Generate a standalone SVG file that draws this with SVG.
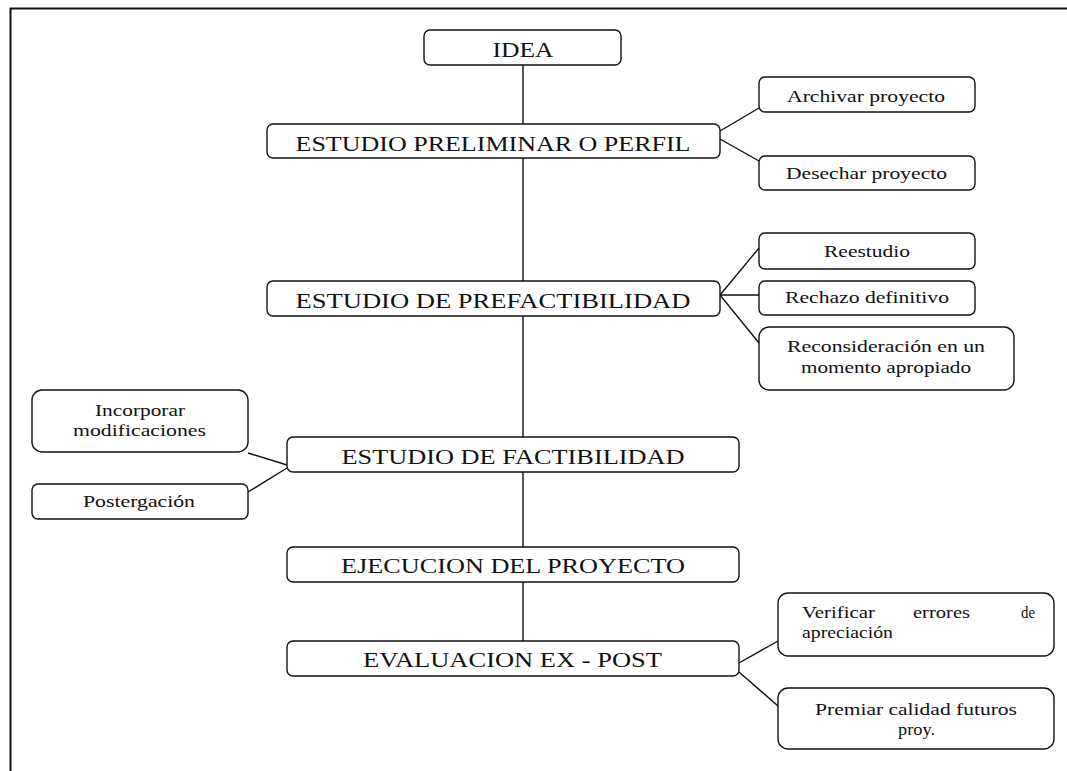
<svg xmlns="http://www.w3.org/2000/svg" width="1067" height="771" viewBox="0 0 1067 771">
<style>
.box{fill:#fff;stroke:#111;stroke-width:1.4}
.c{stroke:#111;stroke-width:1.4;fill:none}
.big{font-family:"Liberation Serif","Times New Roman",serif;font-size:20px;fill:#111;text-anchor:middle}
.sm{font-family:"Liberation Serif","Times New Roman",serif;font-size:17px;fill:#111;text-anchor:middle}
.sl{font-family:"Liberation Serif","Times New Roman",serif;font-size:17px;fill:#111}
</style>
<rect width="1067" height="771" fill="#fff"/>
<g id="frame">
<line x1="10" y1="8.5" x2="1067" y2="8.5" stroke="#111" stroke-width="2"/>
<line x1="10.5" y1="8" x2="10.5" y2="771" stroke="#111" stroke-width="2"/>
</g>
<g id="connectors">
<line class="c" x1="523" y1="64" x2="523" y2="124"/>
<line class="c" x1="523" y1="158" x2="523" y2="281"/>
<line class="c" x1="523" y1="316" x2="523" y2="437"/>
<line class="c" x1="523" y1="472" x2="523" y2="547"/>
<line class="c" x1="523" y1="582" x2="523" y2="641"/>
<line class="c" x1="720" y1="131" x2="759" y2="108"/>
<line class="c" x1="720" y1="139" x2="759" y2="161"/>
<line class="c" x1="720" y1="295" x2="759" y2="248"/>
<line class="c" x1="720" y1="295" x2="759" y2="295"/>
<line class="c" x1="720" y1="295" x2="759" y2="343"/>
<line class="c" x1="248" y1="453" x2="287" y2="465"/>
<line class="c" x1="248" y1="492" x2="287" y2="468"/>
<line class="c" x1="739" y1="663" x2="778" y2="641"/>
<line class="c" x1="739" y1="672" x2="778" y2="706"/>
</g>
<g id="idea">
<rect class="box" x="424" y="30" width="197" height="35" rx="6"/>
<text class="big" x="523" y="57" textLength="61" lengthAdjust="spacingAndGlyphs">IDEA</text>
</g>
<g id="preliminar">
<rect class="box" x="267" y="124" width="453" height="34" rx="6"/>
<text class="big" x="493" y="151" textLength="395" lengthAdjust="spacingAndGlyphs">ESTUDIO PRELIMINAR O PERFIL</text>
</g>
<g id="archivar">
<rect class="box" x="759" y="77" width="216" height="35" rx="6"/>
<text class="sm" x="866" y="102" textLength="158" lengthAdjust="spacingAndGlyphs">Archivar proyecto</text>
</g>
<g id="desechar">
<rect class="box" x="759" y="156" width="216" height="34" rx="6"/>
<text class="sm" x="866.5" y="179" textLength="161" lengthAdjust="spacingAndGlyphs">Desechar proyecto</text>
</g>
<g id="prefactibilidad">
<rect class="box" x="267" y="281" width="453" height="35" rx="6"/>
<text class="big" x="493" y="308" textLength="395" lengthAdjust="spacingAndGlyphs">ESTUDIO DE PREFACTIBILIDAD</text>
</g>
<g id="reestudio">
<rect class="box" x="759" y="233" width="216" height="36" rx="6"/>
<text class="sm" x="867" y="257" textLength="86" lengthAdjust="spacingAndGlyphs">Reestudio</text>
</g>
<g id="rechazo">
<rect class="box" x="759" y="281" width="216" height="34" rx="6"/>
<text class="sm" x="867" y="303" textLength="164" lengthAdjust="spacingAndGlyphs">Rechazo definitivo</text>
</g>
<g id="reconsideracion">
<rect class="box" x="759" y="327" width="255" height="63" rx="10"/>
<text class="sm" x="886" y="352" textLength="198" lengthAdjust="spacingAndGlyphs">Reconsideración en un</text>
<text class="sm" x="886" y="373" textLength="170" lengthAdjust="spacingAndGlyphs">momento apropiado</text>
</g>
<g id="incorporar">
<rect class="box" x="32" y="390" width="216" height="62" rx="10"/>
<text class="sm" x="140" y="416" textLength="90" lengthAdjust="spacingAndGlyphs">Incorporar</text>
<text class="sm" x="139.5" y="436" textLength="133" lengthAdjust="spacingAndGlyphs">modificaciones</text>
</g>
<g id="postergacion">
<rect class="box" x="32" y="484" width="216" height="35" rx="6"/>
<text class="sm" x="139" y="507" textLength="112" lengthAdjust="spacingAndGlyphs">Postergación</text>
</g>
<g id="factibilidad">
<rect class="box" x="287" y="437" width="452" height="35" rx="6"/>
<text class="big" x="513" y="464" textLength="343" lengthAdjust="spacingAndGlyphs">ESTUDIO DE FACTIBILIDAD</text>
</g>
<g id="ejecucion">
<rect class="box" x="287" y="547" width="452" height="35" rx="6"/>
<text class="big" x="513" y="573" textLength="344" lengthAdjust="spacingAndGlyphs">EJECUCION DEL PROYECTO</text>
</g>
<g id="evaluacion">
<rect class="box" x="287" y="641" width="452" height="35" rx="6"/>
<text class="big" x="512.5" y="667" textLength="299" lengthAdjust="spacingAndGlyphs">EVALUACION EX - POST</text>
</g>
<g id="verificar">
<rect class="box" x="778" y="593" width="276" height="63" rx="10"/>
<text class="sl" x="802" y="618" textLength="73" lengthAdjust="spacingAndGlyphs">Verificar</text>
<text class="sl" x="913" y="618" textLength="57" lengthAdjust="spacingAndGlyphs">errores</text>
<text class="sl" x="1021" y="618" textLength="14" lengthAdjust="spacingAndGlyphs">de</text>
<text class="sl" x="802" y="638" textLength="91" lengthAdjust="spacingAndGlyphs">apreciación</text>
</g>
<g id="premiar">
<rect class="box" x="778" y="688" width="276" height="61" rx="10"/>
<text class="sm" x="916" y="715" textLength="202" lengthAdjust="spacingAndGlyphs">Premiar calidad futuros</text>
<text class="sm" x="916.5" y="735" textLength="37" lengthAdjust="spacingAndGlyphs">proy.</text>
</g>
</svg>
